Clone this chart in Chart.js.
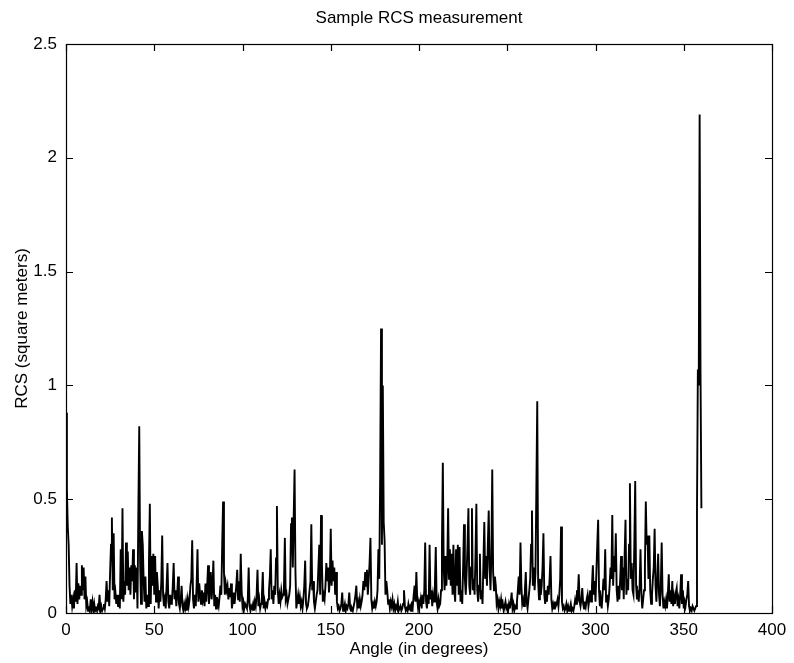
<!DOCTYPE html>
<html>
<head>
<meta charset="utf-8">
<title>Sample RCS measurement</title>
<script src="https://cdn.jsdelivr.net/npm/chart.js@4/dist/chart.umd.min.js"></script>
<style>
  html, body { margin: 0; padding: 0; background: #fff; }
  #wrap { width: 794px; height: 663px; }
</style>
</head>
<body>
<div id="wrap"><canvas id="rcs-chart" width="794" height="663"></canvas></div>
<script>
// angle step of the measurement, degrees
var angleStep = 0.5;

// RCS in square meters, one row = 10 degrees (0, 0.5, 1, ... 9.5)
var rcs = [
  0.88, 0.55, 0.38, 0.30, 0.12, 0.04, 0.08, 0.03, 0.06, 0.02, 0.10, 0.05, 0.22, 0.04, 0.13, 0.06, 0.12, 0.08, 0.21, 0.10, // 0
  0.20, 0.06, 0.16, 0.03, 0.05, 0.01, 0.03, 0.01, 0.06, 0.02, 0.05, 0.01, 0.04, 0.01, 0.02, 0.01, 0.03, 0.02, 0.08, 0.01, // 10
  0.03, 0.01, 0.02, 0.04, 0.02, 0.06, 0.14, 0.05, 0.10, 0.03, 0.18, 0.30, 0.42, 0.10, 0.35, 0.06, 0.09, 0.04, 0.08, 0.03, // 20
  0.08, 0.02, 0.28, 0.06, 0.46, 0.05, 0.14, 0.08, 0.31, 0.12, 0.27, 0.10, 0.20, 0.08, 0.21, 0.14, 0.28, 0.06, 0.21, 0.09, // 30
  0.20, 0.02, 0.45, 0.82, 0.22, 0.04, 0.36, 0.30, 0.14, 0.05, 0.16, 0.02, 0.08, 0.03, 0.22, 0.48, 0.04, 0.25, 0.12, 0.26, // 40
  0.08, 0.25, 0.05, 0.18, 0.12, 0.02, 0.10, 0.05, 0.14, 0.34, 0.08, 0.03, 0.06, 0.02, 0.12, 0.22, 0.05, 0.02, 0.08, 0.04, // 50
  0.05, 0.12, 0.22, 0.06, 0.10, 0.03, 0.08, 0.16, 0.04, 0.02, 0.06, 0.12, 0.03, 0.01, 0.04, 0.02, 0.05, 0.01, 0.06, 0.03, // 60
  0.06, 0.12, 0.15, 0.32, 0.06, 0.02, 0.08, 0.03, 0.12, 0.28, 0.05, 0.13, 0.08, 0.04, 0.10, 0.06, 0.09, 0.03, 0.13, 0.05, // 70
  0.12, 0.21, 0.04, 0.10, 0.18, 0.06, 0.12, 0.23, 0.03, 0.08, 0.02, 0.07, 0.05, 0.03, 0.07, 0.12, 0.08, 0.30, 0.49, 0.18, // 80
  0.08, 0.13, 0.10, 0.12, 0.06, 0.11, 0.07, 0.13, 0.02, 0.05, 0.09, 0.04, 0.08, 0.12, 0.19, 0.06, 0.14, 0.05, 0.26, 0.10, // 90
  0.03, 0.05, 0.02, 0.04, 0.03, 0.02, 0.06, 0.20, 0.03, 0.01, 0.03, 0.02, 0.04, 0.01, 0.05, 0.03, 0.08, 0.19, 0.03, 0.06, // 100
  0.02, 0.04, 0.08, 0.18, 0.02, 0.05, 0.02, 0.04, 0.03, 0.06, 0.10, 0.16, 0.28, 0.06, 0.10, 0.04, 0.12, 0.08, 0.24, 0.47, // 110
  0.10, 0.04, 0.08, 0.05, 0.10, 0.07, 0.08, 0.12, 0.33, 0.06, 0.08, 0.04, 0.06, 0.08, 0.12, 0.39, 0.42, 0.20, 0.42, 0.63, // 120
  0.18, 0.02, 0.05, 0.08, 0.04, 0.07, 0.03, 0.05, 0.02, 0.06, 0.12, 0.23, 0.04, 0.02, 0.03, 0.06, 0.10, 0.14, 0.39, 0.10, // 130
  0.14, 0.05, 0.02, 0.05, 0.08, 0.10, 0.20, 0.30, 0.08, 0.43, 0.22, 0.05, 0.08, 0.06, 0.12, 0.22, 0.14, 0.20, 0.09, 0.15, // 140
  0.37, 0.12, 0.23, 0.14, 0.20, 0.08, 0.18, 0.05, 0.02, 0.03, 0.01, 0.02, 0.04, 0.09, 0.01, 0.02, 0.04, 0.01, 0.03, 0.02, // 150
  0.04, 0.09, 0.02, 0.01, 0.02, 0.01, 0.03, 0.05, 0.08, 0.12, 0.03, 0.05, 0.02, 0.06, 0.03, 0.05, 0.08, 0.14, 0.10, 0.18, // 160
  0.12, 0.19, 0.08, 0.15, 0.22, 0.33, 0.06, 0.02, 0.04, 0.02, 0.05, 0.03, 0.05, 0.10, 0.28, 0.15, 0.60, 1.25, 0.30, 1.00, // 170
  0.40, 0.32, 0.08, 0.14, 0.10, 0.04, 0.06, 0.02, 0.05, 0.03, 0.06, 0.02, 0.04, 0.01, 0.03, 0.02, 0.05, 0.01, 0.02, 0.03, // 180
  0.01, 0.02, 0.04, 0.10, 0.03, 0.01, 0.02, 0.01, 0.04, 0.02, 0.03, 0.01, 0.05, 0.03, 0.08, 0.12, 0.05, 0.18, 0.06, 0.02, // 190
  0.05, 0.03, 0.06, 0.02, 0.08, 0.04, 0.10, 0.31, 0.05, 0.02, 0.08, 0.04, 0.30, 0.06, 0.10, 0.03, 0.08, 0.05, 0.12, 0.29, // 200
  0.05, 0.02, 0.06, 0.03, 0.04, 0.10, 0.30, 0.66, 0.20, 0.10, 0.25, 0.12, 0.20, 0.46, 0.15, 0.28, 0.12, 0.26, 0.08, 0.30, // 210
  0.10, 0.05, 0.28, 0.12, 0.30, 0.08, 0.29, 0.05, 0.10, 0.04, 0.20, 0.39, 0.15, 0.08, 0.18, 0.30, 0.46, 0.12, 0.08, 0.20, // 220
  0.46, 0.10, 0.15, 0.08, 0.25, 0.48, 0.10, 0.05, 0.12, 0.26, 0.06, 0.10, 0.04, 0.22, 0.40, 0.15, 0.25, 0.12, 0.30, 0.45, // 230
  0.20, 0.10, 0.25, 0.63, 0.18, 0.10, 0.16, 0.12, 0.04, 0.06, 0.02, 0.05, 0.03, 0.06, 0.02, 0.04, 0.01, 0.03, 0.05, 0.02, // 240
  0.03, 0.01, 0.04, 0.02, 0.05, 0.09, 0.02, 0.04, 0.01, 0.03, 0.02, 0.05, 0.10, 0.16, 0.08, 0.31, 0.12, 0.04, 0.06, 0.03, // 250
  0.10, 0.18, 0.05, 0.02, 0.06, 0.10, 0.15, 0.30, 0.45, 0.12, 0.20, 0.10, 0.18, 0.55, 0.93, 0.14, 0.06, 0.15, 0.08, 0.12, // 260
  0.20, 0.35, 0.08, 0.04, 0.10, 0.05, 0.12, 0.08, 0.15, 0.25, 0.06, 0.02, 0.04, 0.02, 0.05, 0.03, 0.04, 0.06, 0.03, 0.08, // 270
  0.15, 0.38, 0.05, 0.02, 0.03, 0.01, 0.02, 0.04, 0.01, 0.03, 0.01, 0.02, 0.04, 0.01, 0.02, 0.01, 0.03, 0.06, 0.04, 0.10, // 280
  0.08, 0.17, 0.05, 0.03, 0.06, 0.11, 0.04, 0.02, 0.05, 0.03, 0.06, 0.08, 0.03, 0.06, 0.10, 0.05, 0.12, 0.21, 0.08, 0.14, // 290
  0.05, 0.18, 0.30, 0.41, 0.10, 0.03, 0.06, 0.02, 0.08, 0.15, 0.10, 0.28, 0.05, 0.08, 0.03, 0.06, 0.12, 0.20, 0.15, 0.43, // 300
  0.12, 0.25, 0.18, 0.35, 0.10, 0.05, 0.12, 0.06, 0.15, 0.25, 0.10, 0.20, 0.06, 0.25, 0.41, 0.08, 0.15, 0.10, 0.30, 0.57, // 310
  0.15, 0.22, 0.10, 0.08, 0.30, 0.58, 0.12, 0.06, 0.10, 0.05, 0.12, 0.28, 0.08, 0.02, 0.06, 0.10, 0.20, 0.49, 0.30, 0.34, // 320
  0.15, 0.34, 0.10, 0.04, 0.08, 0.15, 0.20, 0.37, 0.12, 0.05, 0.15, 0.26, 0.08, 0.03, 0.12, 0.31, 0.08, 0.02, 0.05, 0.03, // 330
  0.06, 0.02, 0.08, 0.17, 0.05, 0.10, 0.04, 0.14, 0.03, 0.07, 0.04, 0.09, 0.11, 0.03, 0.06, 0.02, 0.08, 0.17, 0.04, 0.10, // 340
  0.02, 0.05, 0.03, 0.06, 0.08, 0.14, 0.03, 0.01, 0.02, 0.01, 0.03, 0.02, 0.01, 0.02, 0.03, 0.45, 1.07, 1.00, 2.19, 1.05, // 350
  0.46 // 360
];

var xTicks = [0, 50, 100, 150, 200, 250, 300, 350, 400];
var yTicks = [0, 0.5, 1, 1.5, 2, 2.5];

var points = rcs.map(function(v, i) { return {x: i * angleStep, y: v}; });

var fontFamily = "'Liberation Sans', Arial, Helvetica, sans-serif";
var fontSize = 17;

// matlab style box with inward ticks on all four sides
var boxTicks = {
  id: 'boxTicks',
  afterDraw: function(chart) {
    var ctx = chart.ctx, a = chart.chartArea;
    var xs = chart.scales.x, ys = chart.scales.y;
    var len = 7;
    ctx.save();
    ctx.strokeStyle = '#000';
    ctx.lineWidth = 1.2;
    ctx.strokeRect(Math.round(a.left) + 0.5, Math.round(a.top) + 0.5,
                   Math.round(a.right - a.left), Math.round(a.bottom - a.top));
    ctx.beginPath();
    xTicks.forEach(function(t) {
      var px = Math.round(xs.getPixelForValue(t)) + 0.5;
      ctx.moveTo(px, a.bottom); ctx.lineTo(px, a.bottom - len);
      ctx.moveTo(px, a.top); ctx.lineTo(px, a.top + len);
    });
    yTicks.forEach(function(t) {
      var py = Math.round(ys.getPixelForValue(t)) + 0.5;
      ctx.moveTo(a.left, py); ctx.lineTo(a.left + len, py);
      ctx.moveTo(a.right, py); ctx.lineTo(a.right - len, py);
    });
    ctx.stroke();
    ctx.restore();
  }
};

new Chart(document.getElementById('rcs-chart'), {
  type: 'line',
  data: {
    datasets: [{
      data: points,
      borderColor: '#000',
      borderWidth: 1.9,
      pointRadius: 0,
      tension: 0,
      fill: false
    }]
  },
  options: {
    responsive: false,
    animation: false,
    layout: { padding: { left: 0, right: 22, top: 0, bottom: 0 } },
    plugins: {
      legend: { display: false },
      tooltip: { enabled: false },
      title: {
        display: true,
        fullSize: false,
        text: 'Sample RCS measurement',
        color: '#000',
        font: { family: fontFamily, size: fontSize, weight: 'normal' },
        padding: { top: 8, bottom: 15.6 }
      }
    },
    scales: {
      x: {
        type: 'linear',
        min: 0,
        max: 400,
        afterBuildTicks: function(s) { s.ticks = xTicks.map(function(v) { return {value: v}; }); },
        afterFit: function(s) { s.height = 50; },
        grid: { display: false, drawTicks: false },
        border: { display: false },
        ticks: {
          color: '#000', padding: 7, maxRotation: 0,
          font: { family: fontFamily, size: fontSize },
          callback: function(v) { return String(v); }
        },
        title: {
          display: true,
          text: 'Angle (in degrees)',
          color: '#000',
          font: { family: fontFamily, size: fontSize },
          padding: { top: 0, bottom: 3 }
        }
      },
      y: {
        min: 0,
        max: 2.5,
        afterBuildTicks: function(s) { s.ticks = yTicks.map(function(v) { return {value: v}; }); },
        afterFit: function(s) { s.width = 66; },
        grid: { display: false, drawTicks: false },
        border: { display: false },
        ticks: {
          color: '#000', padding: 9,
          font: { family: fontFamily, size: fontSize },
          callback: function(v) { return String(v); }
        },
        title: {
          display: true,
          text: 'RCS (square meters)',
          color: '#000',
          font: { family: fontFamily, size: fontSize },
          padding: { top: 12, bottom: 0 }
        }
      }
    }
  },
  plugins: [boxTicks]
});
</script>
</body>
</html>
